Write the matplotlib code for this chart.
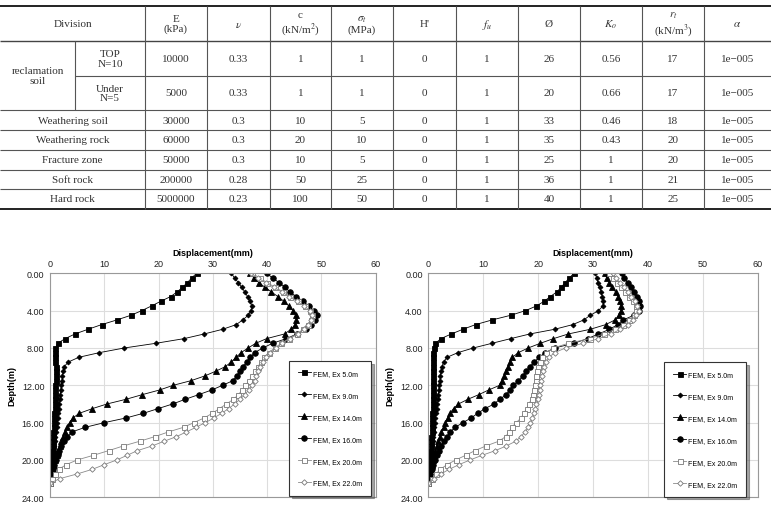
import matplotlib
matplotlib.use("Agg")
import matplotlib.pyplot as plt

plt.rcParams['mathtext.fontset'] = 'stix'

# ---- table data ----
col_edges = [0, 75, 145, 207, 270, 331, 393, 456, 518, 580, 642, 704, 771]
row_edges = [7, 42, 77, 111, 131, 151, 171, 190, 210]

header = ["E\n(kPa)", r"$\nu$", "c\n(kN/m$^{2}$)", "$\\sigma_t$\n(MPa)", "H'",
          r"$f_u$", "Ø", r"$K_o$", "$r_t$\n(kN/m$^{3}$)", r"$\alpha$"]
divisions = ["reclamation\nsoil", "Weathering soil", "Weathering rock",
             "Fracture zone", "Soft rock", "Hard rock"]
sub_div = ["TOP\nN=10", "Under\nN=5"]
E = ["10000", "5000", "30000", "60000", "50000", "200000", "5000000"]
nu = ["0.33", "0.33", "0.3", "0.3", "0.3", "0.28", "0.23"]
c = ["1", "1", "10", "20", "10", "50", "100"]
sigma_t = ["1", "1", "5", "10", "5", "25", "50"]
H = ["0"] * 7
fu = ["1"] * 7
phi = ["26", "20", "33", "35", "25", "36", "40"]
Ko = ["0.56", "0.66", "0.46", "0.43", "1", "1", "1"]
rt = ["17", "17", "18", "20", "20", "21", "25"]
alpha = ["1e−005"] * 7

# ---- chart data (depth in m, displacement in mm) ----
depth = [0.0, 0.5, 1.0, 1.5, 2.0, 2.5, 3.0, 3.5, 4.0, 4.5, 5.0, 5.5, 6.0, 6.5,
         7.0, 7.5, 8.0, 8.5, 9.0, 9.5, 10.0, 10.5, 11.0, 11.5, 12.0, 12.5,
         13.0, 13.5, 14.0, 14.5, 15.0, 15.5, 16.0, 16.5, 17.0, 17.5, 18.0,
         18.5, 19.0, 19.5, 20.0, 20.5, 21.0, 21.5, 22.0, 22.5]

left_ex5 = [27.0, 26.1, 25.3, 24.4, 23.4, 22.2, 20.4, 18.7, 16.9, 14.9, 12.3, 9.5,
            7.0, 4.6, 2.8, 1.4, 1.0, 0.9, 1.0, 1.0, 1.1, 1.1, 1.1, 1.1, 1.0, 1.0,
            1.0, 0.9, 0.9, 0.9, 0.8, 0.8, 0.7, 0.7, 0.6, 0.6, 0.5, 0.5, 0.4, 0.4,
            0.3, 0.3, 0.2, 0.1, 0.05, 0.0]
left_ex9 = [33.4, 34.0, 34.7, 35.3, 35.9, 36.4, 36.8, 37.2, 37.0, 36.5, 35.5, 34.3,
            31.8, 28.4, 24.7, 19.5, 13.7, 9.1, 5.3, 3.4, 2.6, 2.4, 2.3, 2.2, 2.1,
            2.0, 1.9, 1.8, 1.7, 1.6, 1.5, 1.4, 1.3, 1.2, 1.1, 1.0, 0.9, 0.8, 0.7,
            0.6, 0.5, 0.4, 0.3, 0.2, 0.1, 0.0]
left_ex14 = [36.8, 37.6, 38.5, 39.6, 40.8, 42.0, 43.1, 44.0, 44.8, 45.3, 45.4, 45.2,
             44.4, 43.2, 39.9, 37.9, 36.5, 35.2, 34.3, 33.4, 32.3, 30.5, 28.5, 26.0,
             22.7, 20.2, 17.0, 14.0, 10.5, 7.8, 5.4, 4.2, 3.6, 3.1, 2.7, 2.4, 2.1,
             1.8, 1.5, 1.3, 1.0, 0.8, 0.6, 0.4, 0.2, 0.0]
left_ex16 = [39.9, 41.0, 42.2, 43.3, 44.2, 45.4, 46.6, 47.7, 48.6, 49.1, 48.8, 48.0,
             47.1, 45.5, 43.5, 41.0, 39.2, 37.7, 36.9, 36.2, 35.6, 35.0, 34.4, 33.7,
             31.8, 29.8, 27.4, 24.9, 22.6, 19.9, 17.2, 14.0, 10.0, 6.5, 4.0, 3.2,
             2.6, 2.1, 1.7, 1.4, 1.1, 0.8, 0.6, 0.4, 0.2, 0.0]
left_ex20 = [37.3, 38.6, 40.0, 41.5, 42.9, 44.3, 45.6, 46.9, 47.9, 48.2, 48.0, 47.5,
             46.6, 45.5, 44.0, 42.6, 41.4, 40.3, 39.5, 38.9, 38.3, 37.8, 37.2, 36.7,
             36.0, 35.4, 34.7, 33.8, 32.5, 31.2, 29.9, 28.4, 26.5, 24.6, 21.8, 19.3,
             16.5, 13.5, 10.8, 8.0, 5.0, 3.0, 1.6, 0.9, 0.4, 0.0]
left_ex22 = [37.0, 38.3, 39.7, 41.2, 42.7, 44.1, 45.5, 46.8, 47.9, 48.3, 48.1, 47.6,
             46.8, 45.6, 44.2, 42.8, 41.6, 40.6, 39.8, 39.2, 38.7, 38.3, 38.0, 37.7,
             37.2, 36.6, 35.9, 35.0, 34.0, 32.9, 31.6, 30.2, 28.6, 26.9, 25.1, 23.3,
             21.0, 18.8, 16.1, 14.2, 12.3, 10.0, 7.8, 5.0, 1.8, 0.0]

right_ex5 = [26.5, 25.7, 24.9, 24.2, 23.4, 22.2, 21.1, 19.7, 17.7, 15.0, 11.6, 8.6,
             6.3, 4.2, 2.3, 1.3, 0.95, 0.9, 0.9, 0.9, 0.9, 0.9, 0.9, 0.9, 0.9, 0.85,
             0.85, 0.8, 0.8, 0.8, 0.75, 0.7, 0.7, 0.65, 0.6, 0.55, 0.5, 0.45, 0.4,
             0.35, 0.3, 0.25, 0.2, 0.1, 0.05, 0.0]
right_ex9 = [30.4, 30.7, 30.9, 31.2, 31.5, 31.7, 31.9, 31.8, 31.0, 29.5, 28.3, 26.3,
             23.0, 18.5, 15.0, 11.6, 8.2, 5.4, 3.4, 2.8, 2.5, 2.3, 2.2, 2.1, 2.0,
             1.9, 1.8, 1.7, 1.6, 1.5, 1.4, 1.3, 1.2, 1.1, 1.0, 0.9, 0.8, 0.7, 0.6,
             0.5, 0.45, 0.35, 0.3, 0.2, 0.1, 0.0]
right_ex14 = [32.1, 32.5, 33.0, 33.5, 34.1, 34.6, 35.0, 35.1, 35.1, 34.7, 34.0, 32.3,
              29.5, 25.5, 22.8, 20.4, 18.2, 16.4, 15.3, 14.8, 14.5, 14.1, 13.8, 13.4,
              13.0, 11.0, 9.2, 7.2, 5.5, 4.6, 3.9, 3.5, 3.1, 2.8, 2.4, 2.1, 1.8, 1.5,
              1.3, 1.1, 0.9, 0.7, 0.5, 0.3, 0.15, 0.0]
right_ex16 = [35.2, 35.7, 36.3, 36.9, 37.4, 38.0, 38.4, 38.6, 38.3, 37.4, 35.5, 34.5,
              33.0, 31.0, 29.0, 26.5, 23.0, 21.3, 20.2, 19.3, 18.5, 17.8, 17.2, 16.4,
              15.5, 14.8, 14.2, 13.0, 12.0, 10.3, 9.0, 7.8, 6.3, 4.9, 4.0, 3.4, 2.8,
              2.3, 1.9, 1.5, 1.2, 0.9, 0.6, 0.4, 0.2, 0.0]
right_ex20 = [33.0, 33.6, 34.3, 35.1, 35.9, 36.6, 37.3, 37.8, 37.9, 37.4, 36.5, 35.4,
              34.0, 32.0, 29.4, 25.5, 22.8, 21.5, 20.7, 20.3, 20.0, 19.8, 19.7, 19.6,
              19.5, 19.3, 19.0, 18.8, 18.3, 17.9, 17.4, 16.9, 16.0, 15.2, 14.7, 14.1,
              12.8, 10.5, 8.5, 6.8, 5.0, 3.4, 2.2, 1.4, 0.7, 0.0]
right_ex22 = [33.6, 34.2, 34.9, 35.6, 36.3, 37.0, 37.6, 38.1, 38.3, 37.9, 37.2, 36.3,
              35.0, 33.3, 31.0, 28.2, 25.0, 23.0, 22.0, 21.5, 21.1, 20.9, 20.7, 20.6,
              20.4, 20.3, 20.1, 19.9, 19.7, 19.5, 19.2, 18.9, 18.6, 18.2, 17.6, 16.9,
              15.9, 14.2, 12.2, 9.8, 7.6, 5.6, 3.8, 2.3, 1.0, 0.0]

labels = ["FEM, Ex 5.0m", "FEM, Ex 9.0m", "FEM, Ex 14.0m",
          "FEM, Ex 16.0m", "FEM, Ex 20.0m", "FEM, Ex 22.0m"]
styles = [dict(marker='s', ms=3.6, color='black', mfc='black', mec='black'),
          dict(marker='D', ms=2.5, color='black', mfc='black', mec='black'),
          dict(marker='^', ms=3.8, color='black', mfc='black', mec='black'),
          dict(marker='o', ms=4.0, color='black', mfc='black', mec='black'),
          dict(marker='s', ms=3.6, color='#8a8a8a', mfc='white', mec='#777777'),
          dict(marker='D', ms=2.8, color='#8a8a8a', mfc='white', mec='#777777')]

fig = plt.figure(figsize=(7.71, 5.10), dpi=100)

# ---- table ----
tab = fig.add_axes([0, 0, 1, 1])
tab.set_xlim(0, 771)
tab.set_ylim(510, 0)
tab.axis('off')
serif = dict(family=['Liberation Serif', 'DejaVu Serif'], fontsize=8, color='#333333',
             ha='center', va='center')

for y in [row_edges[0], row_edges[-1]]:
    tab.hlines(y, col_edges[0], col_edges[-1], color='#222222', lw=1.4)
tab.hlines(row_edges[1], col_edges[0], col_edges[-1], color='#444444', lw=1.0)
tab.hlines(row_edges[2], col_edges[1], col_edges[-1], color='#555555', lw=0.8)
for y in row_edges[3:-1]:
    tab.hlines(y, col_edges[0], col_edges[-1], color='#555555', lw=0.8)
tab.vlines(col_edges[1], row_edges[1], row_edges[3], color='#555555', lw=0.8)
for x in col_edges[2:-1]:
    tab.vlines(x, row_edges[0], row_edges[-1], color='#555555', lw=0.8)

def mid(a, i, j):
    return (a[i] + a[j]) / 2

tab.text(mid(col_edges, 0, 2), mid(row_edges, 0, 1), "Division", **serif)
for k, h in enumerate(header):
    tab.text(mid(col_edges, k + 2, k + 3), mid(row_edges, 0, 1), h,
             linespacing=1.1, **serif)
tab.text(mid(col_edges, 0, 1), mid(row_edges, 1, 3), divisions[0], **serif)
for k, s in enumerate(sub_div):
    tab.text(mid(col_edges, 1, 2), mid(row_edges, k + 1, k + 2), s,
             linespacing=1.1, **serif)
for k, d in enumerate(divisions[1:]):
    tab.text(mid(col_edges, 0, 2), mid(row_edges, k + 3, k + 4), d, **serif)
columns = [E, nu, c, sigma_t, H, fu, phi, Ko, rt, alpha]
for ci, col in enumerate(columns):
    for ri, v in enumerate(col):
        tab.text(mid(col_edges, ci + 2, ci + 3), mid(row_edges, ri + 1, ri + 2), v, **serif)

# ---- charts ----
narrow = ['Liberation Sans', 'DejaVu Sans']

def draw_chart(rect, series, legend_anchor):
    ax = fig.add_axes(rect)
    for vals, lab, st in zip(series, labels, styles):
        ax.plot(vals, depth, lw=0.6, label=lab, mew=0.6, **st)
    ax.set_xlim(0, 60)
    ax.set_ylim(24, 0)
    ax.set_xticks([0, 10, 20, 30, 40, 50, 60])
    ax.set_yticks([0, 4, 8, 12, 16, 20, 24])
    ax.set_yticklabels([f"{v:.2f}" for v in [0, 4, 8, 12, 16, 20, 24]])
    ax.xaxis.tick_top()
    ax.xaxis.set_label_position('top')
    ax.tick_params(length=0, labelsize=6.5, pad=4, labelcolor='#222222')
    for t in ax.get_xticklabels() + ax.get_yticklabels():
        t.set_family(narrow)
    ax.grid(True, color='#dddddd', lw=0.8)
    ax.set_axisbelow(True)
    for s in ax.spines.values():
        s.set_color('#999999')
        s.set_linewidth(0.8)
    ax.set_xlabel("Displacement(mm)", fontsize=6.5, fontweight='bold',
                  family=narrow, labelpad=3)
    ax.set_ylabel("Depth(m)", fontsize=6.5, fontweight='bold', family=narrow, labelpad=4)
    leg = ax.legend(loc='lower right', bbox_to_anchor=legend_anchor, frameon=True,
                    fancybox=False, shadow=True, edgecolor='#333333',
                    prop=dict(family=narrow, size=5), labelspacing=2.15,
                    handlelength=1.8, borderpad=1.3, handletextpad=0.3,
                    borderaxespad=0.0)
    leg.get_frame().set_linewidth(0.8)
    return ax

draw_chart([50 / 771, 11.7 / 510, 325.7 / 771, 224 / 510],
           [left_ex5, left_ex9, left_ex14, left_ex16, left_ex20, left_ex22],
           (0.985, 0.008))
draw_chart([428.3 / 771, 11.7 / 510, 329.4 / 771, 224 / 510],
           [right_ex5, right_ex9, right_ex14, right_ex16, right_ex20, right_ex22],
           (0.965, 0.003))

fig.savefig("out.png", dpi=100)
